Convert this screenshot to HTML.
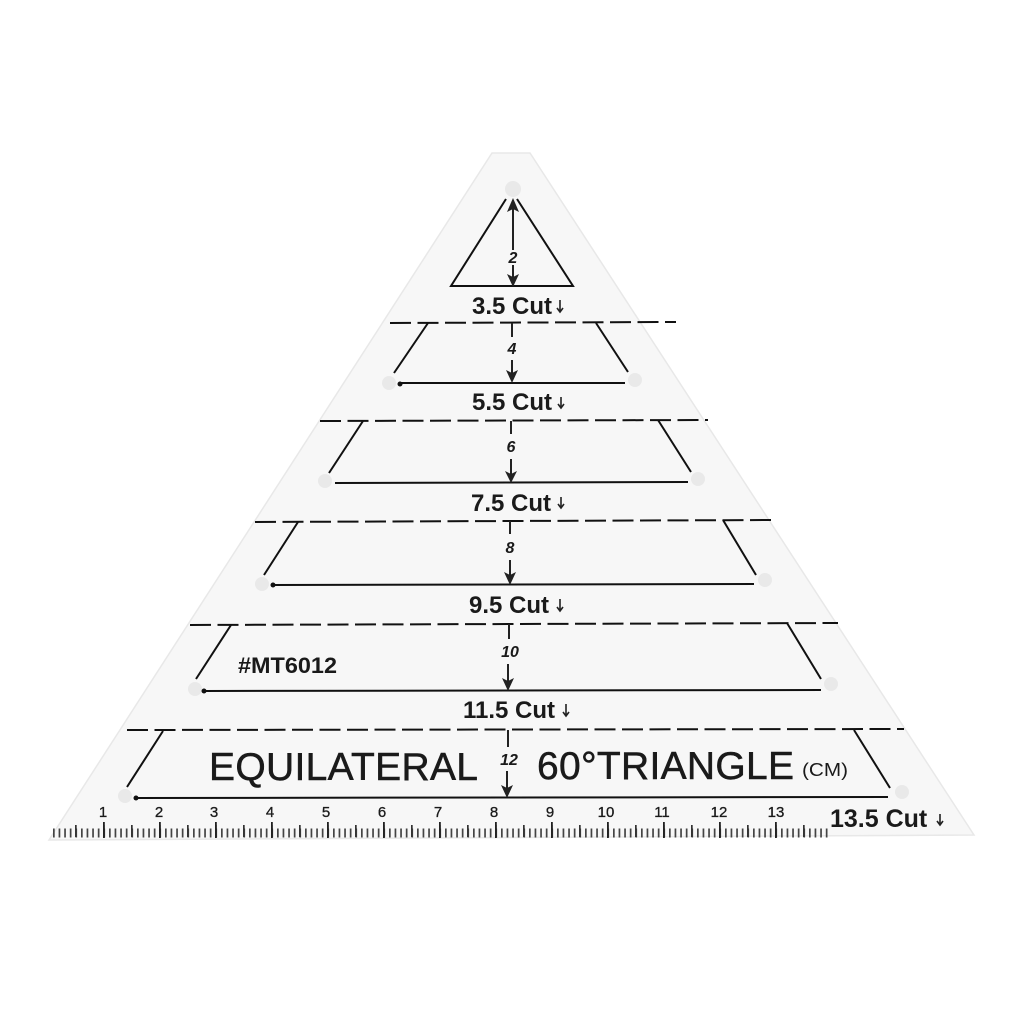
<!DOCTYPE html>
<html>
<head>
<meta charset="utf-8">
<style>
html,body{margin:0;padding:0;background:#fff;width:1024px;height:1024px;overflow:hidden}
svg{display:block}
text{font-family:"Liberation Sans",sans-serif;fill:#1a1a1a}
.cut{font-size:24px;font-weight:bold}
.cm{font-size:15px;text-anchor:middle;stroke:#1a1a1a;stroke-width:.3}
.h{font-size:16px;font-weight:bold;font-style:italic;text-anchor:middle}
.l{stroke:#111;stroke-width:2;fill:none}
.d{stroke:#111;stroke-width:2;stroke-dasharray:21 6.5;fill:none}
.a{stroke:#222;stroke-width:2;fill:none}
.ah{fill:#222;stroke:none}
.hole{fill:#e9e9e9}
.t{stroke:#1a1a1a;stroke-width:.5}
</style>
</head>
<body>
<svg width="1024" height="1024" viewBox="0 0 1024 1024" xmlns="http://www.w3.org/2000/svg">
<rect width="1024" height="1024" fill="#fff"/>
<polygon points="492,153 530,153 974,835 49,840" fill="#f7f7f7" stroke="#e8e8e8" stroke-width="1.5"/>

<!-- holes -->
<circle class="hole" cx="513" cy="189" r="8"/>
<circle class="hole" cx="389" cy="383" r="7"/>
<circle class="hole" cx="635" cy="380" r="7"/>
<circle class="hole" cx="325" cy="481" r="7"/>
<circle class="hole" cx="698" cy="479" r="7"/>
<circle class="hole" cx="262" cy="584" r="7"/>
<circle class="hole" cx="765" cy="580" r="7"/>
<circle class="hole" cx="195" cy="689" r="7"/>
<circle class="hole" cx="831" cy="684" r="7"/>
<circle class="hole" cx="125" cy="796" r="7"/>
<circle class="hole" cx="902" cy="792" r="7"/>

<!-- dashed cut lines -->
<line class="d" x1="390" y1="323" x2="676" y2="322"/>
<line class="d" x1="320" y1="421" x2="708" y2="420"/>
<line class="d" x1="255" y1="522" x2="772" y2="520"/>
<line class="d" x1="190" y1="625" x2="838" y2="623"/>
<line class="d" x1="127" y1="730" x2="904" y2="729"/>

<!-- template 1 -->
<path class="l" d="M506 199 L451 286 L573 286 L517 199"/>
<!-- template 2 -->
<path class="l" d="M428 323 L394 373 M400 383 L625 383 M596 323 L628 372"/>
<circle cx="400" cy="384" r="2.5" fill="#111"/>
<!-- template 3 -->
<path class="l" d="M363 421 L329 473 M335 483 L688 482 M658 420 L691 472"/>
<!-- template 4 -->
<path class="l" d="M298 522 L264 575 M272 585 L754 584 M723 520 L756 575"/>
<circle cx="273" cy="585" r="2.5" fill="#111"/>
<!-- template 5 -->
<path class="l" d="M231 625 L196 679 M204 691 L821 690 M787 623 L821 679"/>
<circle cx="204" cy="691" r="2.5" fill="#111"/>
<!-- template 6 -->
<path class="l" d="M163 731 L127 787 M136 798 L888 797 M854 730 L890 788"/>
<circle cx="136" cy="798" r="2.5" fill="#111"/>

<!-- dimension arrows -->
<line class="a" x1="513" y1="205" x2="513" y2="250"/>
<polygon class="ah" points="513,198 507,212 513,209 519,212"/>
<line class="a" x1="513" y1="265" x2="513" y2="282"/>
<polygon class="ah" points="513,287 507,274 513,277 519,274"/>
<text class="h" x="513" y="263">2</text>

<line class="a" x1="512" y1="323" x2="512" y2="337"/>
<line class="a" x1="512" y1="360" x2="512" y2="378"/>
<polygon class="ah" points="512,383 506,370 512,373 518,370"/>
<text class="h" x="512" y="354">4</text>

<line class="a" x1="511" y1="421" x2="511" y2="434"/>
<line class="a" x1="511" y1="459" x2="511" y2="478"/>
<polygon class="ah" points="511,483 505,471 511,474 517,471"/>
<text class="h" x="511" y="452">6</text>

<line class="a" x1="510" y1="521" x2="510" y2="534"/>
<line class="a" x1="510" y1="560" x2="510" y2="580"/>
<polygon class="ah" points="510,585 504,572 510,575 516,572"/>
<text class="h" x="510" y="553">8</text>

<line class="a" x1="509" y1="624" x2="509" y2="639"/>
<line class="a" x1="508" y1="664" x2="508" y2="686"/>
<polygon class="ah" points="508,691 502,678 508,681 514,678"/>
<text class="h" x="510" y="657">10</text>

<line class="a" x1="508" y1="730" x2="508" y2="747"/>
<line class="a" x1="507" y1="771" x2="507" y2="793"/>
<polygon class="ah" points="507,798 501,785 507,788 513,785"/>
<text class="h" x="509" y="765">12</text>

<!-- cut labels -->
<text class="cut" x="472" y="314">3.5 Cut</text>
<text class="cut" x="472" y="410">5.5 Cut</text>
<text class="cut" x="471" y="511">7.5 Cut</text>
<text class="cut" x="469" y="613">9.5 Cut</text>
<text class="cut" x="463" y="718">11.5 Cut</text>
<text class="cut" x="830" y="827" style="font-size:25px">13.5 Cut</text>

<!-- small down arrows by cut labels -->
<g stroke="#222" stroke-width="1.6" fill="none">
<path d="M560 300V312M557 308L560 312L563 308"/>
<path d="M561 397V408M558 404L561 408L564 404"/>
<path d="M561 497V508M558 504L561 508L564 504"/>
<path d="M560 599V611M557 607L560 611L563 607"/>
<path d="M566 704V716M563 712L566 716L569 712"/>
<path d="M940 814V825M937 821L940 825L943 821"/>
</g>

<!-- titles -->
<text x="238" y="673" font-size="22" font-weight="bold" textLength="99" lengthAdjust="spacingAndGlyphs">#MT6012</text>
<text class="t" x="209" y="780" font-size="39" textLength="269" lengthAdjust="spacing">EQUILATERAL</text>
<text class="t" x="537" y="779" font-size="39" textLength="257" lengthAdjust="spacing">60°TRIANGLE</text>
<text x="802" y="776" font-size="18" textLength="46" lengthAdjust="spacingAndGlyphs">(CM)</text>

<!-- ruler numbers -->
<text class="cm" x="103" y="817">1</text>
<text class="cm" x="159" y="817">2</text>
<text class="cm" x="214" y="817">3</text>
<text class="cm" x="270" y="817">4</text>
<text class="cm" x="326" y="817">5</text>
<text class="cm" x="382" y="817">6</text>
<text class="cm" x="438" y="817">7</text>
<text class="cm" x="494" y="817">8</text>
<text class="cm" x="550" y="817">9</text>
<text class="cm" x="606" y="817">10</text>
<text class="cm" x="662" y="817">11</text>
<text class="cm" x="719" y="817">12</text>
<text class="cm" x="776" y="817">13</text>

<!-- ruler ticks -->
<line x1="53" y1="833" x2="828" y2="833" stroke="#444" stroke-width="9" stroke-dasharray="1.7 3.9"/>
<line x1="53" y1="831" x2="828" y2="831" stroke="#333" stroke-width="12" stroke-dasharray="1.7 26.3" stroke-dashoffset="-22"/>
<line x1="103" y1="830" x2="828" y2="830" stroke="#222" stroke-width="16" stroke-dasharray="1.8 54.2"/>
</svg>
</body>
</html>
